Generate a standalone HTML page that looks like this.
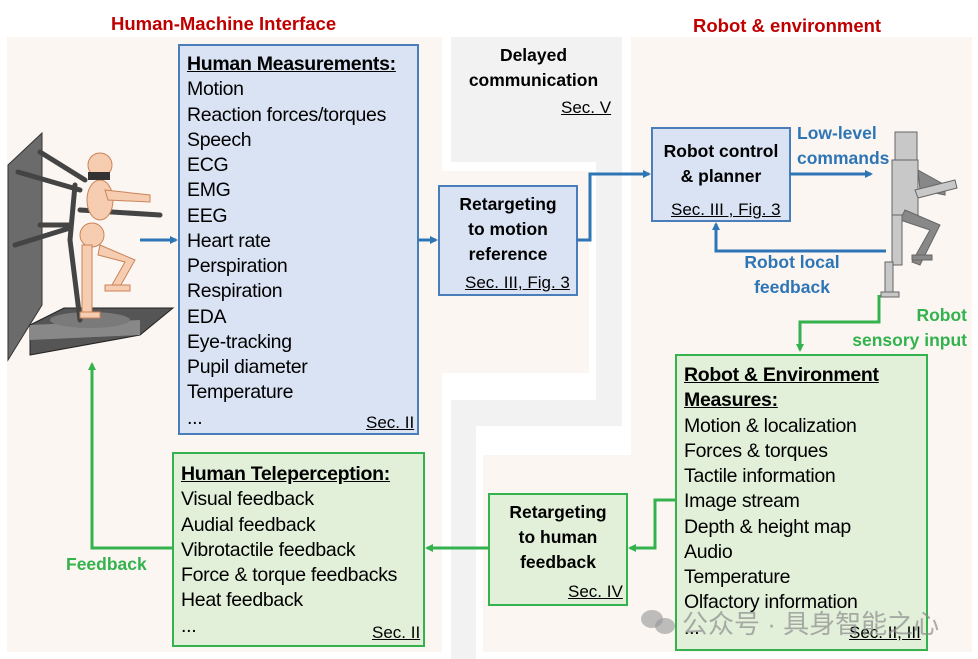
<!DOCTYPE html>
<html><head><meta charset="utf-8"><style>
body{margin:0;width:978px;height:659px;background:#fff;position:relative;overflow:hidden;font-family:"Liberation Sans","Noto Sans CJK SC",sans-serif;}
.a{position:absolute;}
.bg{position:absolute;background:#fbf6f2}
.gr{position:absolute;background:#f2f2f2}
.list{position:absolute;font-size:19.5px;line-height:25.25px;color:#000;white-space:nowrap;letter-spacing:-0.3px}
.u{text-decoration:underline;}
.b{font-weight:bold}
.sec{position:absolute;font-size:17px;text-decoration:underline;white-space:nowrap}
.c{text-align:center;font-weight:bold;font-size:17.5px;line-height:25px;white-space:nowrap}
</style></head><body>
<div class="bg" style="left:7px;top:37px;width:435px;height:615px"></div>
<div class="gr" style="left:451px;top:37px;width:171px;height:125px"></div>
<div class="gr" style="left:596px;top:162px;width:26px;height:264px"></div>
<div class="gr" style="left:451px;top:400px;width:171px;height:26px"></div>
<div class="gr" style="left:451px;top:400px;width:25px;height:259px"></div>
<div class="bg" style="left:442px;top:171px;width:147px;height:202px"></div>
<div class="bg" style="left:631px;top:37px;width:341px;height:615px"></div>
<div class="bg" style="left:483px;top:455px;width:489px;height:197px"></div>

<div class="a b" style="left:111px;top:13px;font-size:18.5px;color:#c00000">Human-Machine Interface</div>
<div class="a b" style="left:693px;top:15px;font-size:18.5px;color:#c00000">Robot &amp; environment</div>

<svg class="a" style="left:0;top:0" width="978" height="659">
<defs>
<marker id="ab" markerWidth="8" markerHeight="8" refX="6" refY="4" orient="auto" markerUnits="userSpaceOnUse"><path d="M0,0 L8,4 L0,8z" fill="#2e75b6"/></marker>
<marker id="ag" markerWidth="8" markerHeight="8" refX="6" refY="4" orient="auto" markerUnits="userSpaceOnUse"><path d="M0,0 L8,4 L0,8z" fill="#33b24d"/></marker>
</defs>
<rect x="179" y="45" width="239" height="389" fill="#dae3f3" stroke="#4a7ebb" stroke-width="2"/>
<rect x="439" y="186" width="138" height="109" fill="#dae3f3" stroke="#4a7ebb" stroke-width="2"/>
<rect x="652" y="128" width="138" height="93" fill="#dae3f3" stroke="#4a7ebb" stroke-width="2"/>
<rect x="676" y="355" width="251" height="295" fill="#e2efd9" stroke="#33b24d" stroke-width="2"/>
<rect x="173" y="453" width="251" height="193" fill="#e2efd9" stroke="#33b24d" stroke-width="2"/>
<rect x="489" y="494" width="138" height="111" fill="#e2efd9" stroke="#33b24d" stroke-width="2"/>
<g fill="none" stroke="#2e75b6" stroke-width="3">
<path d="M140,240 H176" marker-end="url(#ab)"/>
<path d="M418,240 H436" marker-end="url(#ab)"/>
<path d="M577,240 H590 V174 H649" marker-end="url(#ab)"/>
<path d="M790,174 H871" marker-end="url(#ab)"/>
<path d="M886,251 H716 V224" marker-end="url(#ab)"/>
</g>
<g fill="none" stroke="#33b24d" stroke-width="3">
<path d="M879,295 V322 H800 V350" marker-end="url(#ag)"/>
<path d="M676,500 H655 V548 H630" marker-end="url(#ag)"/>
<path d="M489,548 H427" marker-end="url(#ag)"/>
<path d="M173,548 H92 V364" marker-end="url(#ag)"/>
</g>
<!-- human rig -->
<polygon points="8,165 42,133 42,305 8,360" fill="#6b6b6b" stroke="#333"/>
<polygon points="30,325 64,308 173,308 140,335 30,355" fill="#555" stroke="#222"/>
<polygon points="30,325 140,320 140,335 30,340" fill="#888"/>
<ellipse cx="90" cy="320" rx="40" ry="8" fill="#7a7a7a"/>
<g stroke="#444" stroke-width="5" stroke-linecap="round">
<line x1="40" y1="152" x2="85" y2="180"/><line x1="18" y1="172" x2="80" y2="190"/>
<line x1="40" y1="225" x2="70" y2="225"/><line x1="15" y1="245" x2="70" y2="228"/>
<line x1="75" y1="185" x2="70" y2="240"/><line x1="70" y1="240" x2="80" y2="320"/>
<line x1="80" y1="210" x2="160" y2="215"/>
</g>
<g fill="#f6cdb0" stroke="#c9845a" stroke-width="1">
<circle cx="100" cy="165" r="12"/>
<ellipse cx="100" cy="200" rx="13" ry="20"/>
<ellipse cx="92" cy="235" rx="12" ry="12"/>
<rect x="82" y="245" width="10" height="70"/>
<path d="M100,245 L135,260 L118,290 L112,285 L125,262 L98,255z"/>
<path d="M105,190 L150,195 L150,202 L108,200z"/>
<rect x="80" y="312" width="20" height="6"/>
<rect x="105" y="285" width="25" height="6"/>
</g>
<rect x="88" y="172" width="22" height="8" fill="#333"/>
<!-- robot -->
<g fill="#c8c8c8" stroke="#666" stroke-width="1">
<rect x="895" y="132" width="22" height="30"/>
<polygon points="892,160 918,160 918,215 892,215"/>
<polygon points="918,170 945,185 945,195 920,190" fill="#888"/>
<polygon points="915,190 955,180 957,188 918,198"/>
<polygon points="905,210 940,225 920,265 912,262 930,230 900,220" fill="#888"/>
<rect x="892" y="215" width="10" height="50"/>
<rect x="885" y="262" width="8" height="32"/>
<rect x="881" y="292" width="18" height="5"/>
<rect x="912" y="255" width="20" height="5" fill="#888"/>
</g>
</svg>

<div class="list" style="left:187px;top:52px"><span class="b u">Human Measurements:</span><br>Motion<br>Reaction forces/torques<br>Speech<br>ECG<br>EMG<br>EEG<br>Heart rate<br>Perspiration<br>Respiration<br>EDA<br>Eye-tracking<br>Pupil diameter<br>Temperature<br>...</div>
<div class="sec" style="left:366px;top:413px">Sec. II</div>

<div class="a c" style="left:451px;top:43px;width:165px">Delayed<br>communication</div>
<div class="sec" style="left:561px;top:98px">Sec. V</div>

<div class="a c" style="left:439px;top:192px;width:138px">Retargeting<br>to motion<br>reference</div>
<div class="sec" style="left:465px;top:273px">Sec. III, Fig. 3</div>

<div class="a c" style="left:652px;top:139px;width:138px">Robot control<br>&amp; planner</div>
<div class="sec" style="left:671px;top:200px">Sec. III , Fig. 3</div>

<div class="a c" style="left:797px;top:121px;color:#2e75b6;text-align:left">Low-level<br>commands</div>
<div class="a c" style="left:732px;top:250px;width:120px;color:#2e75b6">Robot local<br>feedback</div>
<div class="a c" style="left:842px;top:303px;width:125px;color:#33b24d;text-align:right">Robot<br>sensory input</div>
<div class="a c" style="left:66px;top:552px;color:#33b24d">Feedback</div>

<div class="list" style="left:684px;top:363px"><span class="b u">Robot &amp; Environment</span><br><span class="b u">Measures:</span><br>Motion &amp; localization<br>Forces &amp; torques<br>Tactile information<br>Image stream<br>Depth &amp; height map<br>Audio<br>Temperature<br>Olfactory information<br>...</div>
<div class="sec" style="left:849px;top:623px">Sec. II, III</div>

<div class="list" style="left:181px;top:462px"><span class="b u">Human Teleperception:</span><br>Visual feedback<br>Audial feedback<br>Vibrotactile feedback<br>Force &amp; torque feedbacks<br>Heat feedback<br>...</div>
<div class="sec" style="left:372px;top:623px">Sec. II</div>

<div class="a c" style="left:489px;top:500px;width:138px">Retargeting<br>to human<br>feedback</div>
<div class="sec" style="left:568px;top:582px">Sec. IV</div>

<div class="a" style="left:641px;top:610px;width:22px;height:18px;border-radius:50%;background:rgba(150,150,150,.6)"></div>
<div class="a" style="left:655px;top:618px;width:20px;height:16px;border-radius:50%;background:rgba(150,150,150,.6)"></div>
<div class="a" style="left:682px;top:604px;font-size:26px;color:rgba(140,140,140,.7);white-space:nowrap">公众号 · 具身智能之心</div>
</body></html>
